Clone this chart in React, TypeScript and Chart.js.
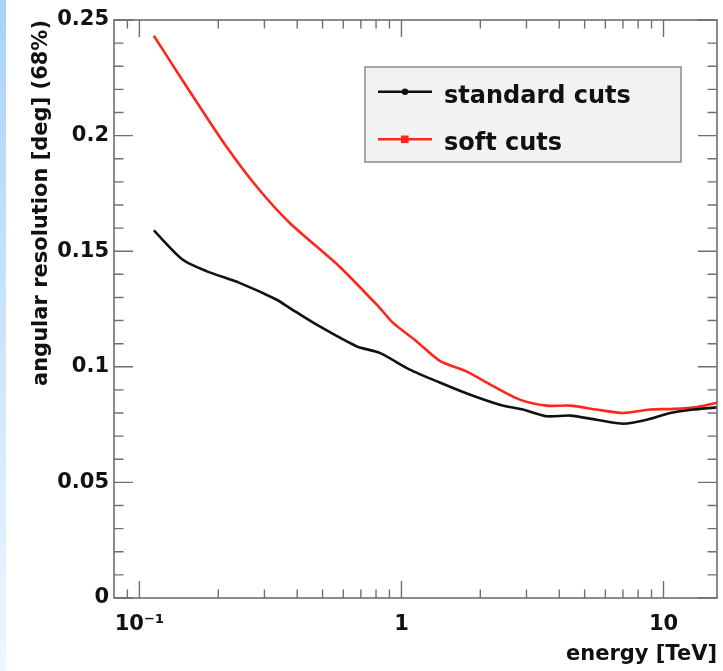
import React, { useEffect, useRef } from "react";
import { Chart, registerables } from "chart.js";

Chart.register(...registerables);

// ---- data ----
const standardEnergy = [0.1135, 0.146, 0.18, 0.241, 0.333, 0.374, 0.473, 0.673, 0.826, 1.076, 1.4, 1.82, 2.37, 2.91, 3.58, 4.4, 5.56, 7.03, 8.63, 10.6, 13.0, 16.2];
const standardRes = [0.159, 0.1464, 0.1414, 0.1363, 0.1291, 0.1255, 0.1183, 0.1089, 0.106, 0.0988, 0.0932, 0.088, 0.0836, 0.0815, 0.0786, 0.0789, 0.0771, 0.0754, 0.0771, 0.08, 0.0815, 0.0825];
const softEnergy = [0.1135, 0.134, 0.169, 0.214, 0.279, 0.374, 0.581, 0.826, 0.929, 1.14, 1.4, 1.77, 2.24, 2.83, 3.58, 4.4, 5.56, 7.03, 8.89, 10.9, 13.4, 16.2];
const softRes = [0.2432, 0.2305, 0.2129, 0.1955, 0.1782, 0.1623, 0.1433, 0.1255, 0.119, 0.1111, 0.1026, 0.098, 0.0916, 0.0858, 0.0832, 0.0832, 0.0815, 0.08, 0.0815, 0.0818, 0.0826, 0.0846];

const seriesLabels = ["standard cuts", "soft cuts"];
const seriesColors = ["#111111", "rgb(255,38,28)"];
const yTickValues = [0, 0.05, 0.1, 0.15, 0.2, 0.25];
const yTickLabels = ["0", "0.05", "0.1", "0.15", "0.2", "0.25"];
const xTickValues = [0.1, 1, 10];
const xTickLabels = ["10\u207B\u00B9", "1", "10"];
const xMinorValues = [0.09, 0.2, 0.3, 0.4, 0.5, 0.6, 0.7, 0.8, 0.9, 2, 3, 4, 5, 6, 7, 8, 9];
const yMinorValues = [0.01, 0.02, 0.03, 0.04, 0.06, 0.07, 0.08, 0.09, 0.11, 0.12, 0.13, 0.14, 0.16, 0.17, 0.18, 0.19, 0.21, 0.22, 0.23, 0.24];
const xTitle = "energy [TeV]";
const yTitle = "angular resolution [deg] (68%)";

const FONT = "'DejaVu Sans', sans-serif";
const AXIS_COLOR = "#6f6f6f";

const framePlugin = {
  id: "rootFrame",
  beforeDraw(chart: any) {
    const { ctx, height } = chart;
    ctx.save();
    const g = ctx.createLinearGradient(0, 0, 0, height);
    g.addColorStop(0, "#a9d3fb");
    g.addColorStop(1, "#eef6ff");
    ctx.fillStyle = g;
    ctx.fillRect(0, 0, 6, height);
    ctx.restore();
  },
  afterDraw(chart: any) {
    const { ctx, chartArea: a, scales } = chart;
    const xs = scales.x;
    const ys = scales.y;
    ctx.save();
    ctx.strokeStyle = AXIS_COLOR;
    ctx.lineWidth = 1.6;
    ctx.strokeRect(a.left, a.top, a.right - a.left, a.bottom - a.top);
    ctx.lineWidth = 1.4;
    ctx.beginPath();
    const yTick = (v: number, len: number) => {
      const py = ys.getPixelForValue(v);
      ctx.moveTo(a.left, py);
      ctx.lineTo(a.left + len, py);
      ctx.moveTo(a.right, py);
      ctx.lineTo(a.right - len, py);
    };
    const xTick = (v: number, len: number) => {
      const px = xs.getPixelForValue(v);
      ctx.moveTo(px, a.bottom);
      ctx.lineTo(px, a.bottom - len);
      ctx.moveTo(px, a.top);
      ctx.lineTo(px, a.top + len);
    };
    yTickValues.forEach((v) => yTick(v, 19));
    yMinorValues.forEach((v) => yTick(v, 9.5));
    xTickValues.forEach((v) => xTick(v, 17));
    xMinorValues.forEach((v) => xTick(v, 8.5));
    ctx.stroke();

    // legend
    const bx = 365, by = 67, bw = 316, bh = 95;
    ctx.fillStyle = "#f2f2f2";
    ctx.fillRect(bx, by, bw, bh);
    ctx.strokeStyle = "#8a8a8a";
    ctx.lineWidth = 1.5;
    ctx.strokeRect(bx, by, bw, bh);
    const rows = [91.7, 139.3];
    const baselines = [102.5, 150];
    chart.data.datasets.forEach((ds: any, i: number) => {
      const y = rows[i];
      ctx.strokeStyle = ds.borderColor;
      ctx.lineWidth = 2.4;
      ctx.beginPath();
      ctx.moveTo(378, y);
      ctx.lineTo(432, y);
      ctx.stroke();
      ctx.fillStyle = ds.borderColor;
      if (i === 0) {
        ctx.beginPath();
        ctx.arc(405, y, 3.2, 0, Math.PI * 2);
        ctx.fill();
      } else {
        ctx.fillRect(401, y - 3.8, 7.6, 7.6);
      }
      ctx.fillStyle = "#111";
      ctx.font = `bold 24px ${FONT}`;
      ctx.textAlign = "left";
      ctx.textBaseline = "alphabetic";
      ctx.fillText(ds.label, 444, baselines[i]);
    });
    ctx.restore();
  },
};

export default function App() {
  const ref = useRef<HTMLCanvasElement | null>(null);
  useEffect(() => {
    if (!ref.current) return;
    const tickFont = { family: FONT, weight: "bold" as const, size: 21 };
    const chart = new Chart(ref.current, {
      type: "line",
      data: {
        datasets: [
          {
            label: seriesLabels[0],
            data: standardEnergy.map((x, i) => ({ x, y: standardRes[i] })),
            borderColor: seriesColors[0],
            borderWidth: 2.6,
            pointRadius: 0,
            tension: 0.25,
            fill: false,
          },
          {
            label: seriesLabels[1],
            data: softEnergy.map((x, i) => ({ x, y: softRes[i] })),
            borderColor: seriesColors[1],
            borderWidth: 2.6,
            pointRadius: 0,
            tension: 0.25,
            fill: false,
          },
        ],
      },
      options: {
        animation: false,
        responsive: false,
        parsing: false as any,
        layout: { padding: { left: 0, top: 20, right: 6, bottom: 0 } },
        plugins: { legend: { display: false }, tooltip: { enabled: false } },
        scales: {
          x: {
            type: "logarithmic",
            min: 0.08,
            max: 16,
            afterBuildTicks: (s: any) => {
              s.ticks = xTickValues.map((v) => ({ value: v }));
            },
            afterFit: (s: any) => {
              s.height = 73;
            },
            grid: { display: false, drawTicks: false },
            border: { display: false },
            ticks: {
              autoSkip: false,
              maxRotation: 0,
              padding: 14,
              color: "#111",
              font: tickFont,
              callback: (_v: any, i: number) => xTickLabels[i],
            },
            title: {
              display: true,
              text: xTitle,
              align: "end",
              color: "#111",
              font: tickFont,
              padding: { top: 0, bottom: 4 },
            },
          },
          y: {
            type: "linear",
            min: 0,
            max: 0.25,
            afterBuildTicks: (s: any) => {
              s.ticks = yTickValues.map((v) => ({ value: v }));
            },
            afterFit: (s: any) => {
              s.width = 114;
            },
            grid: { display: false, drawTicks: false },
            border: { display: false },
            ticks: {
              autoSkip: false,
              padding: 5,
              color: "#111",
              font: tickFont,
              callback: (_v: any, i: number) => yTickLabels[i],
            },
            title: {
              display: true,
              text: yTitle,
              align: "end",
              color: "#111",
              font: tickFont,
              padding: { top: 29, bottom: 0 },
            },
          },
        },
      },
      plugins: [framePlugin],
    } as any);
    return () => chart.destroy();
  }, []);
  return (
    <div style={{ position: "absolute", left: 0, top: 0, width: 723, height: 671, background: "#fff" }}>
      <canvas ref={ref} width={723} height={671} style={{ width: 723, height: 671, display: "block" }} />
    </div>
  );
}
